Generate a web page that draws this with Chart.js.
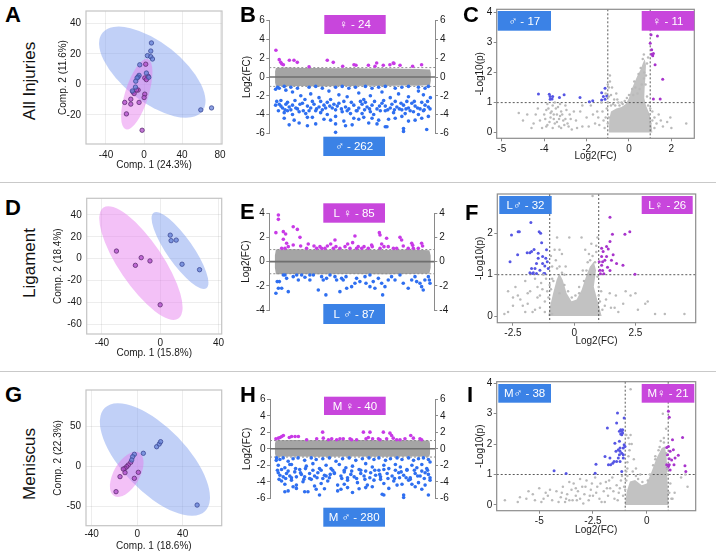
<!DOCTYPE html>
<html><head><meta charset="utf-8">
<script src="https://cdn.jsdelivr.net/npm/chart.js@4.4.0/dist/chart.umd.min.js"></script>
<style>
html,body{margin:0;padding:0;background:#fff}
body{position:relative;width:720px;height:553px;overflow:hidden;font-family:"Liberation Sans",Arial,sans-serif}
canvas{position:absolute}
.let{position:absolute;font-weight:bold;font-size:22px;line-height:1;color:#000;z-index:2}
.row{position:absolute;font-size:17px;line-height:1;white-space:nowrap;transform:translate(-50%,-50%) rotate(-90deg);color:#111}
.sep{position:absolute;left:0;width:716px;height:1.5px;background:#c9c9c9}
</style></head><body>
<div class="sep" style="top:181.5px"></div>
<div class="sep" style="top:370.5px"></div>
<canvas id="cA"></canvas><canvas id="cB"></canvas><canvas id="cC"></canvas>
<canvas id="cD"></canvas><canvas id="cE"></canvas><canvas id="cF"></canvas>
<canvas id="cG"></canvas><canvas id="cH"></canvas><canvas id="cI"></canvas>
<div class="row" style="left:29px;top:81px">All Injuries</div>
<div class="row" style="left:29px;top:263px">Ligament</div>
<div class="row" style="left:29px;top:464px">Meniscus</div>
<div class="let" style="left:5px;top:4px">A</div>
<div class="let" style="left:240px;top:4px">B</div>
<div class="let" style="left:463px;top:4px">C</div>
<div class="let" style="left:5px;top:197px">D</div>
<div class="let" style="left:240px;top:201px">E</div>
<div class="let" style="left:465px;top:202px">F</div>
<div class="let" style="left:5px;top:384px">G</div>
<div class="let" style="left:240px;top:384px">H</div>
<div class="let" style="left:467px;top:384px">I</div>
<script>
// ---- valeurs ----
// PCA : [Comp.1, Comp.2]
const pcaA_male = [[7.8,27.1],[7.1,21.8],[3.6,18.8],[7.1,18.1],[8.9,16.6],[-4.5,12.8],[2.5,7.4],[-5.2,5.9],[-6.3,4.8],[-7.3,4.2],[-8.7,2.1],[5.0,4.6],[-9.0,-1.8],[-12.2,-4.3],[59.7,-16.7],[71.0,-15.4]];
const pcaA_female = [[1.8,13.2],[0.8,4.2],[4.3,5.3],[2.5,3.1],[-6.2,-3.7],[-7.9,-3.7],[-11.5,-5.0],[-10.4,-6.0],[0.8,-6.4],[0.1,-8.6],[-13.9,-9.7],[-20.3,-11.8],[-13.9,-12.9],[-5.2,-11.8],[-18.5,-19.3],[-2.0,-30.0]];
const pcaA_ellMale = {c:[8.7,8.0], u:[52.3,-25.8], v:[-19.9,-14.9]};
const pcaA_ellFemale = {c:[-7.6,-6.4], u:[11.5,23.0], v:[11.8,-2.2]};
const pcaA_xTicks = [-40,0,40,80], pcaA_yTicks = [-20,0,20,40];

const pcaD_male = [[6.9,21.5],[7.5,16.5],[11,17],[15,-5],[27,-10]];
const pcaD_female = [[-30,7],[-17,-6],[-13,1],[-7,-2],[0,-42]];
const pcaD_ellMale = {c:[13.6,7.5], u:[18.1,-34.4], v:[-7.3,-6.8]};
const pcaD_ellFemale = {c:[-13.2,-3.9], u:[25.7,-50.6], v:[-12.5,-11.2]};
const pcaD_xTicks = [-40,0,40], pcaD_yTicks = [-60,-40,-20,0,20,40];

const pcaG_male = [[5.4,15.9],[17.1,24.1],[19.4,27.5],[20.6,30.4],[52.7,-48.8],[-2.5,14.6],[-4.0,11.6],[-4.8,7.5]];
const pcaG_female = [[-5.7,4.6],[-7.8,1.3],[-9.2,-0.8],[-10.7,-2.9],[-12.2,-3.8],[-10.7,-8.3],[-15.1,-13.3],[-18.6,-32.1],[1.0,-7.9],[-2.5,-15.4]];
const pcaG_ellMale = {c:[15.6,8.1], u:[44,-64.7], v:[-20.2,-27.8]};
const pcaG_ellFemale = {c:[-9.2,-10.4], u:[11.0,27.1], v:[9.9,-8.1]};
const pcaG_xTicks = [-40,0,40], pcaG_yTicks = [-50,0,50];

// Log2(FC) par protéine (rang 0-100)
const fcTicks6 = [-6,-4,-2,0,2,4,6], fcTicks4 = [-4,-2,0,2,4];
const fcCut = [-1,1];
const bandB_top = [[3.5,0.6],[4,0.95],[10,1.0],[20,0.95],[30,0.97],[40,0.93],[50,0.95],[60,0.9],[70,0.92],[80,0.88],[90,0.85],[97,0.8],[97.5,0.4]];
const bandB_bot = [[3.5,-0.6],[4,-0.95],[10,-0.98],[20,-0.95],[30,-1.0],[40,-0.95],[50,-0.97],[60,-0.93],[70,-0.95],[80,-0.9],[90,-0.92],[97,-0.85],[97.5,-0.4]];
const maB_female = [[4.0,2.85],[6.0,1.85],[6.9,1.56],[7.5,1.4],[8.5,1.31],[12.1,1.78],[14.9,1.78],[16.9,1.56],[24,1.1],[35.0,1.78],[38.6,1.56],[44.3,1.14],[51.1,1.31],[52.3,1.25],[59.8,1.25],[63.8,1.14],[64.8,1.49],[68.8,1.25],[72.8,1.31],[74.8,1.49],[75.2,1.45],[78.9,1.25],[86.5,1.14],[91.9,1.31]];
const maB_male = [[5,-1.1],[6,-1.2],[9,-1.0],[13,-1.1],[17,-1.2],[24,-1.1],[28,-1.0],[32,-1.2],[40,-1.1],[44,-1.0],[48,-1.2],[52,-1.1],[58,-1.0],[62,-1.2],[66,-1.1],[70,-1.0],[76,-1.2],[80,-1.1],[84,-1.0],[90,-1.1],[94,-1.2],[96,-1.0],
 [14,-1.6],[19,-2.0],[25,-1.8],[30,-2.2],[36,-1.5],[42,-1.9],[47,-2.1],[54,-1.7],[61,-2.0],[68,-1.6],[73,-2.2],[78,-1.8],[84,-2.1],[90,-1.5],[93,-1.9],[10,-1.4],[57,-2.4],
 [6,-2.9],[7,-3.1],[8,-3.3],[10,-2.9],[12,-3.2],[14,-3.0],[17,-3.4],[20,-2.8],[23,-3.1],[25,-3.3],[27,-2.9],[30,-3.2],[33,-3.0],[35,-2.7],[38,-3.3],[41,-3.1],[42,-2.8],[46,-3.2],[48,-3.4],[51,-3.0],[54,-3.3],[56,-2.9],[59,-3.2],[62,-3.0],[65,-3.4],[68,-2.8],[70,-3.1],[73,-3.3],[74,-2.9],[77,-3.2],[81,-3.0],[84,-3.3],[86,-2.8],[88,-3.1],[91,-3.4],[94,-3.0],[96,-3.2],
 [9,-3.8],[11,-3.6],[14,-4.0],[18,-3.7],[22,-3.9],[28,-3.6],[31,-3.8],[35,-4.0],[40,-3.5],[44,-3.7],[49,-3.9],[53,-3.6],[56,-3.9],[61,-3.7],[63,-4.0],[70,-3.6],[75,-3.8],[80,-3.5],[82,-3.9],[87,-3.7],[90,-4.0],[93,-3.6],
 [9,-4.4],[15,-4.6],[23,-4.3],[33,-4.5],[40,-4.2],[45,-4.7],[51,-4.4],[57,-4.3],[66,-4.6],[72,-4.5],[80,-4.2],[88,-4.6],[92,-4.4],
 [12,-5.1],[23,-5.2],[28,-5.0],[40,-5.0],[40,-5.9],[50,-5.1],[70,-5.3],[71,-5.3],[81,-5.5],[81,-5.8],[95,-5.6],[60,-4.9],
 [3.8,-1.3],[4.5,-2.6],[5.5,-3.6],[7,-2.5],[9.5,-3.5],[11,-2.7],[13,-3.5],[15.5,-2.5],[16,-3.3],[18.5,-2.9],[20.5,-3.6],[21.5,-2.4],[24,-3.6],[26,-2.6],[28.5,-3.4],[31,-2.6],[32,-3.5],[34,-3.3],[36.5,-3.1],[37,-2.4],[39,-2.9],[43.5,-3.4],[45,-2.6],[47,-3.6],[49.5,-2.7],[52.5,-3.6],[55,-2.6],[57.5,-3.5],[58,-2.7],[60.5,-3.4],[63.5,-2.6],[66.5,-3.1],[67,-3.6],[69,-2.5],[71.5,-3.5],[75.5,-3.5],[76,-2.6],[78.5,-3.4],[79.5,-2.8],[82.5,-3.4],[83,-2.6],[85,-3.6],[87.5,-2.6],[89.5,-3.3],[92,-2.7],[93.5,-3.5],[95.5,-2.6],[97,-3.4],[97.2,-2.2],[3.8,-3.0],[26,-4.3],[37,-4.6],[54,-4.5],[62,-4.4],[76,-4.4],[84,-4.7],[96,-4.2],[18,-4.9],[46,-5.2],[65,-5.0]];

const bandE_top = [[3.4,0.5],[4,1.0],[15,1.02],[30,0.98],[50,1.0],[70,0.97],[85,1.0],[97,0.95],[97.8,0.5]];
const bandE_bot = [[3.4,-0.5],[4,-1.05],[15,-1.02],[30,-1.05],[50,-1.03],[70,-1.05],[85,-1.02],[97,-1.0],[97.8,-0.5]];
const maE_female = [[4.0,4.55],[5.5,3.86],[5.5,3.5],[4.0,2.4],[8.5,2.48],[9.9,2.29],[8.5,1.85],[14.5,2.89],[17.0,2.67],[18.6,2.01],[10.5,1.52],[11.5,1.24],[14.5,1.38],[7.5,1.1],[9.5,1.1],[19.0,1.29],[23.6,1.46],[27.1,1.29],[30.7,1.24],[31.7,1.1],[35.2,1.29],[37.2,1.46],[39.8,1.79],[40.4,1.24],[42.8,1.1],[45.9,1.24],[47.5,1.46],[50.5,1.57],[51.9,2.12],[53.9,1.24],[57.4,1.24],[60.0,1.1],[62.4,1.24],[66.7,2.4],[67.1,2.2],[68.1,1.46],[69.5,1.24],[71.1,1.93],[72.1,1.24],[75.2,1.1],[79.2,2.01],[80.2,1.79],[81.2,1.29],[86.3,1.52],[86.9,1.35],[90.3,1.1],[92.3,1.52],[92.9,1.29],[22.6,1.1],[28.7,1.1],[33.7,1.1],[38.8,1.1],[48.9,1.1],[52.9,1.1],[56,1.1],[62,1.38],[67.1,1.1],[77.2,1.1],[84.2,1.1],[87.3,1.1]];
const maE_male = [[4.0,-2.62],[4.8,-1.65],[6.1,-1.65],[5.5,-2.2],[7.5,-2.2],[9.5,-1.1],[10.5,-1.38],[11.5,-2.48],[14.5,-1.24],[16.6,-1.1],[17.6,-1.52],[19.6,-1.1],[21.6,-1.29],[24.6,-1.1],[24.6,-1.52],[29.7,-2.34],[31.7,-1.24],[32.7,-1.52],[34.3,-2.75],[36.8,-1.1],[39.8,-1.24],[40.8,-1.52],[42.8,-2.48],[43.8,-1.38],[44.8,-1.52],[46.5,-1.24],[46.9,-2.2],[49.9,-2.07],[51.9,-1.79],[52.9,-1.38],[54.9,-1.65],[58.0,-1.24],[58.6,-1.79],[61.0,-2.07],[63.0,-1.65],[64.0,-2.2],[66.1,-1.38],[68.1,-1.79],[68.7,-2.75],[70.1,-2.07],[72.1,-1.52],[74.1,-1.24],[76.2,-1.52],[79.2,-1.1],[81.2,-1.79],[84.2,-2.2],[86.3,-1.52],[88.3,-1.24],[89.3,-1.65],[91.3,-1.79],[92.3,-2.07],[93.3,-2.34],[94.3,-1.52],[96.4,-1.24],[97.0,-1.52],[97.4,-1.79],[8.5,-1.1],[26.7,-1.1],[61,-1.1],[34.7,-1.38]];

const bandH_top = [[3,0.6],[3.5,1.05],[15,1.08],[30,1.05],[50,1.07],[70,1.04],[85,1.05],[96.5,1.0],[97,0.6]];
const bandH_bot = [[3,-0.6],[3.5,-0.95],[15,-0.93],[30,-0.96],[50,-0.94],[70,-0.95],[85,-0.93],[96.5,-0.95],[97,-0.6]];
const maH_female = [[3.6,1.21],[5.1,1.29],[6.1,1.37],[7.1,1.49],[8.1,1.62],[11.7,1.37],[13.1,1.49],[15.2,1.49],[17.2,1.49],[28.3,1.21],[31.9,2.02],[32.3,1.29],[37.4,1.21],[40.4,1.09],[42.4,1.21],[44.4,1.21],[48.5,1.21],[49.5,1.09],[56.6,2.02],[58.2,1.21],[59.6,1.37],[60.6,2.02],[62.2,1.21],[66.7,1.09],[68.7,2.02],[70.7,1.21],[72.7,1.9],[73.7,1.62],[74.7,1.29],[76.8,1.09],[81.8,1.21],[85.3,1.62],[86.9,1.29],[90.9,1.21],[91.9,1.09],[22.2,1.09],[35.4,1.09],[52.5,1.09],[78.8,1.09],[65.7,1.21]];
const maH_male = [[4,-1.1],[6,-1.3],[8,-1.1],[11,-1.5],[14,-1.2],[17,-1.1],[21,-1.4],[25,-1.1],[28,-1.3],[32,-1.2],[36,-1.1],[40,-1.5],[44,-1.2],[48,-1.1],[52,-1.4],[56,-1.2],[60,-1.1],[63,-1.3],[66,-1.1],[70,-1.4],[73,-1.2],[77,-1.1],[80,-1.3],[84,-1.1],[87,-1.4],[90,-1.2],[93,-1.1],[96,-1.3],[97,-1.6],
 [5,-2.0],[9,-2.3],[13,-1.9],[18,-2.5],[22,-2.1],[26,-1.8],[30,-2.4],[34,-2.0],[38,-2.6],[42,-1.9],[46,-2.3],[50,-2.1],[54,-2.5],[58,-1.8],[62,-2.2],[66,-2.6],[69,-2.0],[72,-2.4],[76,-1.9],[79,-2.2],[83,-2.5],[86,-2.0],[89,-2.3],[92,-1.9],[95,-2.4],
 [5,-2.9],[6,-3.2],[8,-3.4],[10,-3.0],[12,-3.3],[15,-2.8],[19,-3.1],[21,-3.4],[24,-3.0],[27,-3.3],[29,-2.9],[33,-3.2],[36,-3.5],[39,-3.0],[43,-3.3],[45,-2.8],[49,-3.1],[51,-3.4],[55,-3.0],[57,-3.3],[61,-2.9],[64,-3.2],[67,-3.4],[71,-3.0],[74,-3.3],[78,-2.9],[81,-3.2],[85,-3.5],[88,-3.0],[91,-3.3],[94,-2.9],[96,-3.1],
 [7,-3.9],[9,-4.3],[13,-3.8],[16,-4.4],[20,-4.0],[25,-3.7],[31,-4.2],[35,-3.9],[41,-4.4],[47,-3.8],[53,-4.1],[59,-4.4],[63,-3.8],[69,-4.2],[75,-3.9],[80,-4.3],[84,-3.8],[90,-4.1],[94,-4.4],[97,-3.8],
 [9,-5.2],[11,-5.1],[16,-4.8],[21,-5.2],[23,-5.2],[33,-4.85],[37,-6.6],[41,-5.1],[43,-4.9],[47,-4.7],[54,-4.85],[68,-5.5],[69,-5.6],[77,-4.4],[81,-5.6],[81,-5.9],[88,-4.6],[96,-5.6],[28,-4.9],[58,-4.7],
 [3.8,-1.4],[4.5,-2.6],[5.5,-3.7],[7,-2.5],[9.5,-3.6],[11,-2.7],[13,-3.5],[15.5,-2.4],[16,-3.4],[18.5,-2.9],[20.5,-3.7],[21.5,-2.4],[24,-3.6],[26,-2.6],[28.5,-3.5],[31,-2.6],[32,-3.6],[34,-3.3],[36.5,-3.1],[37,-2.4],[39,-2.9],[43.5,-3.6],[45,-2.6],[47,-3.5],[49.5,-2.7],[52.5,-3.6],[55,-2.6],[57.5,-3.7],[58,-2.7],[60.5,-3.5],[63.5,-2.6],[66.5,-3.1],[67,-3.7],[69,-2.5],[71.5,-3.6],[75.5,-3.6],[76,-2.6],[78.5,-3.5],[79.5,-2.8],[82.5,-3.5],[83,-2.6],[85,-3.7],[87.5,-2.6],[89.5,-3.3],[92,-2.7],[93.5,-3.6],[95.5,-2.6],[97,-3.5],[14,-4.6],[27,-4.5],[45,-4.3],[62,-4.6],[72,-4.8],[86,-4.3],[92,-4.9],[50,-5.3],[30,-5.6],[12,-1.9]];

// Volcano : [Log2(FC), -Log10(p)]
const pCut = [1];
const volC_xTicks = [-6,-4,-2,0,2], volC_xLabels = ['-5','-4','-2','0','2'], volC_yTicks = [0,1,2,3,4];
const coreC = [[-0.95,0],[-0.93,0.45],[-0.85,0.7],[-0.6,0.8],[-0.35,0.85],[-0.15,0.95],[0.0,1.15],[0.1,1.4],[0.25,1.65],[0.4,1.9],[0.55,2.1],[0.65,2.3],[0.74,2.45],[0.8,2.25],[0.78,1.9],[0.74,1.5],[0.72,1.15],[0.8,0.9],[0.95,0.65],[1.05,0.35],[1.1,0]];
const volC_gray = [[-4.0,0.6],[-3.8,0.8],[-3.7,0.5],[-3.6,0.9],[-3.5,0.3],[-3.4,0.6],[-3.3,0.2],[-3.2,0.7],[-3.1,0.4],[-3.0,0.9],[-2.9,0.3],[-3.9,0.2],[-3.6,0.15],[-2.8,0.6],[-2.7,0.1],[-3.5,1.0],[-3.3,0.45],[-3.75,0.35],[-4.2,0.4],[-4.5,0.3],[-4.8,0.6],[-5.0,0.4],[-5.2,0.65],[-4.3,0.8],[-4.6,0.15],[-2.5,0.4],[-2.3,0.7],[-2.2,0.2],[-2.0,0.5],[-1.8,0.9],[-1.6,0.3],[-1.5,0.7],[-1.3,1.0],[-1.2,0.4],[-1.1,1.3],[-1.0,1.6],[-0.9,1.9],[-0.95,1.2],[-1.05,0.8],[-0.8,1.5],[-0.7,1.1],[-0.6,1.3],[-0.5,1.0],[1.2,0.5],[1.3,0.3],[1.5,0.4],[1.6,0.2],[1.8,0.35],[2.7,0.3],[1.1,0.7],[0.7,1.8],[0.6,1.6],[0.8,1.9],[0.3,1.5],[0.9,2.5],[0.85,2.3],[-3.85,0.95],[-3.65,0.7],[-3.45,0.8],[-3.25,0.55],[-3.05,0.25],[-2.95,0.75],[-0.95,0.5],[-0.85,0.9],[1.0,0.3],[0.95,0.6],[0.9,0.9],[0.4,1.3],[0.5,1.45],[-0.3,0.95],[-0.2,1.05],[0.2,1.25],
 [-3.95,0.45],[-3.85,0.25],[-3.7,0.65],[-3.55,0.45],[-3.4,0.35],[-3.35,0.85],[-3.2,0.15],[-3.15,0.6],[-3.0,0.45],[-2.85,0.2],[-2.75,0.45],[-2.6,0.7],[-2.45,0.15],[-3.9,0.75],[-3.55,0.6],[-3.25,0.95],[-4.1,0.15],[-4.4,0.6],[-2.2,0.9],[-1.9,0.2],[-1.7,0.6],[-1.4,0.25],[-1.45,0.5],[-1.25,0.7],[-1.15,0.15],[-1.1,0.5],[-1.0,1.0],[-1.0,0.3],[-0.95,1.5],[-0.9,1.7],[-0.85,1.25],[-0.75,0.95],[-0.65,0.9],[-0.55,1.1],[-0.45,0.9],[-0.35,1.0],[-0.1,1.15],[0.0,1.25],[0.15,1.45],[0.25,1.7],[0.45,1.95],[0.55,2.15],[0.65,2.45],[0.7,2.6],[0.72,2.0],[0.78,1.6],[0.85,1.2],[1.0,0.8],[1.1,0.4],[1.2,0.15],[1.4,0.6],[2.0,0.15],[1.95,0.5]];
const volC_male = [[-4.27,1.29],[-3.76,1.28],[-3.72,1.2],[-3.63,1.12],[-3.72,1.11],[-3.28,1.17],[-3.06,1.26],[-2.31,1.17],[-1.87,1.03],[-1.71,1.06],[-1.29,1.33],[-1.13,1.48],[-1.21,1.2],[-1.13,1.11],[-1.05,1.22],[-3.6,1.2],[-1.29,1.09]];
const volC_female = [[1.04,3.26],[1.34,3.22],[1.0,2.98],[1.07,2.76],[1.15,2.64],[1.12,2.56],[1.07,2.61],[1.23,2.26],[1.59,1.78],[1.15,1.12],[1.47,1.12]];

const volF_xTicks = [-2.5,0,2.5], volF_yTicks = [0,1,2];
const coreF = [[-1.06,0],[-0.99,0.23],[-0.86,0.55],[-0.72,0.87],[-0.61,1.03],[-0.47,0.87],[-0.31,0.55],[-0.11,0.36],[0.1,0.4],[0.3,0.63],[0.48,0.95],[0.64,1.19],[0.8,1.31],[0.89,1.11],[0.8,0.71],[0.98,0.31],[1.12,0]];
const volF_gray = [[-2.7,0.6],[-2.5,0.25],[-2.4,0.7],[-2.2,0.4],[-2.0,0.85],[-1.9,0.3],[-1.8,0.6],[-1.7,0.1],[-1.6,0.9],[-1.5,0.45],[-1.4,0.2],[-1.3,0.65],[-1.2,0.35],[-1.15,0.9],[-1.25,1.0],[-1.0,0.75],[-0.9,1.2],[-0.8,1.6],[-0.7,1.9],[-0.75,1.35],[-0.5,1.5],[-0.35,1.2],[-0.2,1.9],[0.3,1.9],[0.45,1.6],[0.6,1.5],[0.7,1.75],[0.9,1.55],[0.95,1.9],[0.75,2.9],[1.1,0.6],[1.3,0.4],[1.5,0.2],[1.7,0.5],[2.0,0.3],[2.3,0.5],[2.6,0.15],[2.9,0.3],[3.3,0.05],[3.7,0.05],[4.5,0.05],[2.5,0.55],[-2.85,0.05],[-2.0,0.1],[0.2,0.7],[-0.6,0.55],[1.8,0.1],[3.0,0.35],[-1.35,0.8],[-2.3,0.5],[-0.4,1.0],[0.55,1.3],[0.35,1.1],[-0.9,0.9],[1.0,0.5],
 [-1.05,0.45],[-0.95,0.65],[-0.85,0.85],[-0.7,1.15],[-0.6,1.2],[-0.5,1.05],[-0.4,0.75],[-0.25,0.6],[-0.1,0.45],[0.05,0.5],[0.2,0.55],[0.4,0.85],[0.5,1.1],[0.65,1.35],[0.75,1.45],[0.85,1.3],[0.95,0.95],[1.0,0.7],[1.05,0.35],[1.15,0.15],[-1.2,0.1],[-1.1,0.6],[-0.9,0.05],[-1.4,0.5],[-1.6,0.15],[-1.9,0.55],[-2.1,0.25],[-2.5,0.45],[-2.7,0.1],[-1.5,0.7],[1.25,0.25],[1.45,0.55],[1.65,0.2],[2.1,0.6],[0.9,1.7],[-0.6,1.6],[-0.95,1.45]];
const volF_male = [[-2.62,1.31],[-2.56,1.96],[-2.29,2.04],[-2.24,2.04],[-2.31,1.48],[-1.92,1.53],[-1.81,1.53],[-1.77,2.26],[-1.74,1.15],[-1.67,1.05],[-1.7,1.03],[-1.64,1.61],[-1.54,1.03],[-1.43,2.04],[-1.47,1.4],[-1.33,1.77],[-1.29,1.44],[-1.29,1.27],[-1.24,1.03],[-1.2,1.21],[-1.13,1.6],[-1.1,1.31],[-1.06,1.15],[-1.47,1.52],[-1.6,1.15],[-1.4,1.11],[-1.54,1.27],[-1.74,1.56],[-1.16,1.4],[-1.37,2.0],[-1.2,1.03],[-1.81,1.05]];
const volF_female = [[1.46,2.39],[1.56,1.98],[2.07,1.98],[2.27,2.04],[1.46,1.8],[1.32,1.68],[1.39,1.62],[1.12,1.64],[1.18,1.56],[1.32,1.44],[1.52,1.35],[1.16,1.31],[1.12,1.23],[1.05,1.11],[1.16,1.1],[1.21,1.02],[1.07,1.02],[1.99,1.23],[2.48,1.01],[1.59,1.48],[1.25,1.35],[1.36,1.18],[1.02,1.31],[1.46,1.1],[1.73,1.27],[1.12,1.44]];

const volI_xTicks = [-5,-2.5,0], volI_yTicks = [0,1,2,3,4];
const coreI = [[-1.01,0],[-0.93,0.44],[-0.78,0.77],[-0.54,0.82],[-0.23,0.65],[0,0.7],[0.23,1.1],[0.46,1.54],[0.7,1.87],[0.85,1.92],[0.93,1.54],[0.96,0.88],[1.01,0]];
const volI_gray = [[-6.6,0.15],[-5.9,0.25],[-5.6,0.2],[-5.3,0.35],[-5.0,0.55],[-4.8,0.2],[-4.6,0.3],[-4.4,0.15],[-4.2,0.45],[-4.0,0.25],[-3.9,0.6],[-3.7,0.35],[-3.6,0.15],[-3.5,0.5],[-3.4,0.7],[-3.3,0.3],[-3.2,0.45],[-3.1,0.2],[-3.0,0.6],[-2.9,0.35],[-2.8,0.8],[-2.7,0.15],[-2.6,0.5],[-2.5,0.3],[-2.4,0.9],[-2.3,0.6],[-2.2,0.2],[-2.0,0.45],[-1.9,0.75],[-1.8,0.3],[-1.7,0.55],[-1.6,0.9],[-1.5,0.2],[-1.4,0.65],[-1.3,0.4],[-1.2,0.8],[-1.1,0.3],[-1.05,0.6],[-3.8,0.1],[-4.5,0.5],[-2.1,0.1],[-5.5,0.45],[-4.9,0.1],[-3.45,0.15],[-2.95,0.05],[-0.9,1.4],[-0.8,1.8],[-0.75,2.3],[-0.85,2.2],[-0.7,2.0],[-0.6,1.5],[-0.95,1.1],[-0.5,1.2],[-0.75,3.8],[0.75,3.0],[0.9,2.5],[0.8,2.2],[0.6,1.9],[1.1,0.7],[1.3,0.4],[1.6,0.9],[1.8,1.0],[1.9,0.6],[1.2,0.2],[-0.3,1.0],[-0.9,0.95],[0.4,1.5],[0.95,1.2],
 [-1.0,0.5],[-0.95,0.8],[-0.9,1.2],[-0.85,1.6],[-0.8,2.0],[-0.95,2.3],[-0.65,1.1],[-0.5,0.95],[-0.4,0.85],[-0.2,0.75],[0.05,0.8],[0.15,1.0],[0.3,1.3],[0.4,1.6],[0.55,1.8],[0.65,2.1],[0.8,2.05],[0.9,1.7],[0.95,1.0],[1.05,0.4],[1.15,0.2],[-3.6,0.75],[-3.3,0.55],[-3.1,0.85],[-2.85,0.6],[-2.65,0.3],[-2.35,0.4],[-2.15,0.7],[-1.95,0.1],[-1.75,0.8],[-1.55,0.45],[-1.35,0.15],[-1.25,0.55],[-1.15,0.95],[-4.1,0.1],[-4.7,0.4],[-5.2,0.15],[-6.0,0.1],[-3.95,0.4],[-3.75,0.2],[-3.25,0.15],[-2.55,0.7],[-1.85,0.55]];
const volI_male = [[-4.31,1.12],[-3.75,1.03],[-2.36,1.34],[-2.4,1.04],[-1.94,1.59],[-1.83,2.53],[-1.68,1.32],[-1.58,1.37],[-1.48,2.03],[-1.4,2.69],[-1.36,3.02],[-1.32,1.54],[-1.27,1.65],[-1.24,1.43],[-1.21,2.47],[-1.16,2.42],[-1.12,2.36],[-1.16,2.31],[-1.09,1.87],[-1.05,2.86],[-1.16,1.7],[-1.32,1.81],[-1.16,1.1],[-1.24,1.87],[-1.27,2.42],[-1.21,2.33],[-1.09,1.65],[-1.4,1.43],[-1.52,1.43],[-1.12,2.47],[-1.09,1.54],[-1.71,1.54],[-1.78,1.32],[-1.24,1.76],[-1.05,1.98],[-1.01,1.92],[-1.27,2.09],[-1.43,1.76]];
const volI_female = [[1.01,3.08],[1.05,2.88],[0.93,1.89],[1.01,1.92],[1.2,2.14],[1.67,2.22],[1.24,1.81],[1.47,1.63],[1.16,1.48],[0.96,1.65],[1.05,1.32],[0.96,1.21],[1.09,1.15],[1.01,1.26],[1.78,1.29],[1.82,1.1],[1.32,1.54],[1.05,1.52],[0.93,1.32],[1.09,1.76],[1.27,1.32]];

// ---- rendu ----
Chart.defaults.font.family = '"Liberation Sans","DejaVu Sans",Arial,sans-serif';
Chart.defaults.color = '#1a1a1a';
const DECO = {};
const pts = a => a.map(([x,y])=>({x,y}));
const ds = (a, col, r, extra) => Object.assign({data:pts(a), pointRadius:r, pointBackgroundColor:col, pointBorderColor:col, pointBorderWidth:0}, extra||{});

const deco = {
  id:'deco',
  beforeDatasetsDraw(chart){
    const o = DECO[chart.canvas.id]; if(!o) return;
    const {ctx, chartArea:ca, scales:{x,y}} = chart;
    ctx.save();
    ctx.beginPath(); ctx.rect(ca.left,ca.top,ca.width,ca.height); ctx.clip();
    (o.polys||[]).forEach(p=>{
      ctx.beginPath();
      p.pts.forEach(([u,v],i)=>{ const px=x.getPixelForValue(u), py=y.getPixelForValue(v); i?ctx.lineTo(px,py):ctx.moveTo(px,py); });
      ctx.closePath(); ctx.fillStyle=p.color; ctx.fill();
    });
    (o.ellipses||[]).forEach(e=>{
      const px=x.getPixelForValue(e.c[0]), py=y.getPixelForValue(e.c[1]);
      const ux=x.getPixelForValue(e.c[0]+e.u[0])-px, uy=y.getPixelForValue(e.c[1]+e.u[1])-py;
      const vx=x.getPixelForValue(e.c[0]+e.v[0])-px, vy=y.getPixelForValue(e.c[1]+e.v[1])-py;
      ctx.save(); ctx.transform(ux,uy,vx,vy,px,py); ctx.beginPath(); ctx.arc(0,0,1,0,Math.PI*2); ctx.restore();
      ctx.fillStyle=e.color; ctx.fill();
    });
    ctx.restore();
    ctx.save();
    (o.h||[]).forEach(l=>{ const py=y.getPixelForValue(l.v); ctx.beginPath(); ctx.setLineDash(l.dash||[]); ctx.lineWidth=l.w||1; ctx.strokeStyle=l.color; ctx.moveTo(ca.left,py); ctx.lineTo(ca.right,py); ctx.stroke(); });
    (o.v||[]).forEach(l=>{ const px=x.getPixelForValue(l.v); ctx.beginPath(); ctx.setLineDash(l.dash||[]); ctx.lineWidth=l.w||1; ctx.strokeStyle=l.color; ctx.moveTo(px,ca.top); ctx.lineTo(px,ca.bottom); ctx.stroke(); });
    ctx.restore();
  },
  afterDatasetsDraw(chart){
    const o = DECO[chart.canvas.id]; if(!o) return;
    const {ctx, chartArea:ca} = chart;
    ctx.save();
    if(o.frame){ ctx.strokeStyle=o.frame; ctx.lineWidth=1.2; ctx.strokeRect(ca.left,ca.top,ca.width,ca.height); }
    (o.tags||[]).forEach(t=>{
      const bx=t.box[0]-o.box[0], by=t.box[1]-o.box[1];
      ctx.fillStyle=t.bg; ctx.fillRect(bx,by,t.box[2],t.box[3]);
      ctx.fillStyle='#fff'; ctx.font='11.5px "Liberation Sans","DejaVu Sans",Arial,sans-serif';
      ctx.textAlign='center'; ctx.textBaseline='middle';
      ctx.fillText(t.text, bx+t.box[2]/2, by+t.box[3]/2+0.5);
    });
    ctx.restore();
  }
};
Chart.register(deco);

function build(id, g, datasets, scales, d){
  const cv = document.getElementById(id);
  cv.width = g.box[2]-g.box[0]; cv.height = g.box[3]-g.box[1];
  cv.style.left = g.box[0]+'px'; cv.style.top = g.box[1]+'px';
  DECO[id] = Object.assign({box:g.box}, d);
  return new Chart(cv, {type:'scatter', data:{datasets}, options:{
    responsive:false, animation:false, events:[], devicePixelRatio:1,
    layout:{padding:{left:g.plot[0]-g.box[0]-g.yW, top:g.plot[1]-g.box[1], right:g.box[2]-g.plot[2]-(g.yRW||0), bottom:g.box[3]-g.plot[3]-(g.xH||0)}},
    plugins:{legend:{display:false}, tooltip:{enabled:false}},
    scales}});
}
function axis(pos, min, max, ticks, o){
  const horiz = pos==='bottom';
  return {type:'linear', position:pos, min, max,
    afterBuildTicks:s=>{ s.ticks = ticks.map(v=>({value:v})); },
    afterFit:s=>{ if(horiz) s.height=o.size; else s.width=o.size; },
    border:o.border||{display:false},
    grid:o.grid,
    ticks:{autoSkip:false, maxRotation:0, padding:o.pad, font:{size:10}, color:'#1a1a1a',
      callback:(v,i)=> o.labels ? o.labels[i] : String(v)},
    title:{display:!!o.title, text:o.title||'', font:{size:10}, color:'#1a1a1a', padding:0}};
}
const gPCA = {color:'rgba(0,0,0,0.07)', drawTicks:false, tickLength:0};
const gVol = {drawOnChartArea:false, drawTicks:true, tickLength:3, color:'#8a8a8a'};
const gMA = {drawOnChartArea:false, drawTicks:true, tickLength:3, color:'#8a8a8a'};
const bMA = {display:true, color:'#8a8a8a', width:1};

const BLUE_E='rgba(118,150,238,0.45)', PINK_E='rgba(228,118,238,0.45)';
const pcaSets = (m,f)=>[
  ds(m,'rgba(100,128,215,0.75)',2.2,{pointBorderColor:'#3d4a96',pointBorderWidth:0.8}),
  ds(f,'rgba(175,75,200,0.75)',2.2,{pointBorderColor:'#5e2d72',pointBorderWidth:0.8})];

// A, D, G : PCA
build('cA', {box:[40,0,236,181], plot:[86,8,222,144], yW:29, xH:27}, pcaSets(pcaA_male,pcaA_female), {
  x:axis('bottom',-61,82,pcaA_xTicks,{size:27,pad:5,grid:gPCA,title:'Comp. 1 (24.3%)'}),
  y:axis('left',-39,48,pcaA_yTicks,{size:29,pad:5,grid:gPCA,title:'Comp. 2 (11.6%)'})},
  {frame:'#c4c4c4', ellipses:[Object.assign({color:BLUE_E},pcaA_ellMale), Object.assign({color:PINK_E},pcaA_ellFemale)]});
build('cD', {box:[40,184,236,370], plot:[86.7,198.3,221.7,334], yW:34.4, xH:25.3}, pcaSets(pcaD_male,pcaD_female), {
  x:axis('bottom',-50.4,42.2,pcaD_xTicks,{size:25.3,pad:3,grid:gPCA,title:'Comp. 1 (15.8%)'}),
  y:axis('left',-68.6,55.1,pcaD_yTicks,{size:34.4,pad:5,grid:gPCA,title:'Comp. 2 (18.4%)'})},
  {frame:'#c4c4c4', ellipses:[Object.assign({color:PINK_E},pcaD_ellFemale), Object.assign({color:BLUE_E},pcaD_ellMale)]});
build('cG', {box:[40,373,236,553], plot:[86,390,221.7,525.7], yW:33.7, xH:27}, pcaSets(pcaG_male,pcaG_female), {
  x:axis('bottom',-45,74.3,pcaG_xTicks,{size:27,pad:3,grid:gPCA,title:'Comp. 1 (18.6%)'}),
  y:axis('left',-74.6,95,pcaG_yTicks,{size:33.7,pad:5,grid:gPCA,title:'Comp. 2 (22.3%)'})},
  {frame:'#c4c4c4', ellipses:[Object.assign({color:BLUE_E},pcaG_ellMale), Object.assign({color:PINK_E},pcaG_ellFemale)]});

// B, E, H : Log2(FC)
const MA_BLUE='#2f6ff0', MA_PURP='#c83ae6', TAG_BLUE='#3b82e6', TAG_PURP='#c846dc';
function ma(id, g, lim, ticks, male, female, top, bot, tags){
  build(id, g, [ds(male,MA_BLUE,1.8,{clip:false}), ds(female,MA_PURP,1.8,{clip:false})], {
    x:{type:'linear', min:0, max:100, display:false},
    y:axis('left',-lim,lim,ticks,{size:g.yW,pad:1.5,grid:gMA,border:bMA,title:'Log2(FC)'}),
    y2:axis('right',-lim,lim,ticks,{size:g.yRW,pad:2,grid:gMA,border:bMA})},
    {polys:[{pts:top.concat(bot.slice().reverse()), color:'#a5a5a5'}],
     h:[{v:0,color:'#6f6f6f',w:1.6}].concat(fcCut.map(v=>({v,color:'#8d8d8d',dash:[2,2],w:1}))),
     tags});
}
ma('cB', {box:[236,0,462,181], plot:[269.3,20.7,435,133.3], yW:28.3, yRW:22}, 6, fcTicks6, maB_male, maB_female, bandB_top, bandB_bot,
  [{text:'\u2640 - 24', bg:TAG_PURP, box:[324.3,15,61.4,19]}, {text:'\u2642 - 262', bg:TAG_BLUE, box:[323.3,136.7,61.7,19.3]}]);
ma('cE', {box:[236,184,462,370], plot:[269.3,213.3,434.3,310], yW:28.6, yRW:22}, 4, fcTicks4, maE_male, maE_female, bandE_top, bandE_bot,
  [{text:'L \u2640 - 85', bg:TAG_PURP, box:[323.3,203.3,61.7,19.4]}, {text:'L \u2642 - 87', bg:TAG_BLUE, box:[323.3,304,61.7,20]}]);
ma('cH', {box:[236,373,462,553], plot:[270,399.3,435,498.3], yW:29, yRW:22}, 6, fcTicks6, maH_male, maH_female, bandH_top, bandH_bot,
  [{text:'M \u2640 - 40', bg:TAG_PURP, box:[324,396.7,61.7,18.3]}, {text:'M \u2642 - 280', bg:TAG_BLUE, box:[323.3,507.7,61.7,19]}]);

// C, F, I : volcano
const V_BLUE='#5656e4', V_PURP='#a834cc', V_GRAY='#bababa';
function vol(id, g, xr, yr, xt, xl, yt, core, gray, male, female, tags){
  build(id, g, [ds(gray,V_GRAY,1.25), ds(male,V_BLUE,1.5), ds(female,V_PURP,1.5)], {
    x:axis('bottom',xr[0],xr[1],xt,{size:g.xH,pad:1.5,grid:gVol,title:'Log2(FC)',labels:xl}),
    y:axis('left',yr[0],yr[1],yt,{size:g.yW,pad:1.5,grid:gVol,title:'-Log10(p)'})},
    {frame:'#8c8c8c', polys:[{pts:core, color:'#c2c2c2'}],
     v:fcCut.map(v=>({v,color:'#5a5a5a',dash:[2,2],w:1})),
     h:pCut.map(v=>({v,color:'#5a5a5a',dash:[2,2],w:1})),
     tags});
}
vol('cC', {box:[462,0,720,181], plot:[496.7,9.3,694.3,138.3], yW:22.7, xH:24.4}, [-6.24,3.08], [-0.19,4.11], volC_xTicks, volC_xLabels, volC_yTicks, coreC, volC_gray, volC_male, volC_female,
  [{text:'\u2642 - 17', bg:TAG_BLUE, box:[497.7,11,53.3,19.7]}, {text:'\u2640 - 11', bg:TAG_PURP, box:[641.7,11,52.6,19.7]}]);
vol('cF', {box:[462,184,720,370], plot:[497.3,194,695.7,322.7], yW:23.3, xH:25}, [-3.14,4.96], [-0.16,2.95], volF_xTicks, null, volF_yTicks, coreF, volF_gray, volF_male, volF_female,
  [{text:'L\u2642 - 32', bg:TAG_BLUE, box:[499.3,196,52.4,18]}, {text:'L\u2640 - 26', bg:TAG_PURP, box:[641.7,196,51,18]}]);
vol('cI', {box:[462,373,720,553], plot:[496.7,381.7,695.7,510.7], yW:22.7, xH:25.3}, [-6.98,2.28], [-0.19,4.05], volI_xTicks, null, volI_yTicks, coreI, volI_gray, volI_male, volI_female,
  [{text:'M\u2642 - 38', bg:TAG_BLUE, box:[498.3,384,52.7,18.7]}, {text:'M\u2640 - 21', bg:TAG_PURP, box:[641.7,384,52.6,18.7]}]);
</script>
</body></html>
